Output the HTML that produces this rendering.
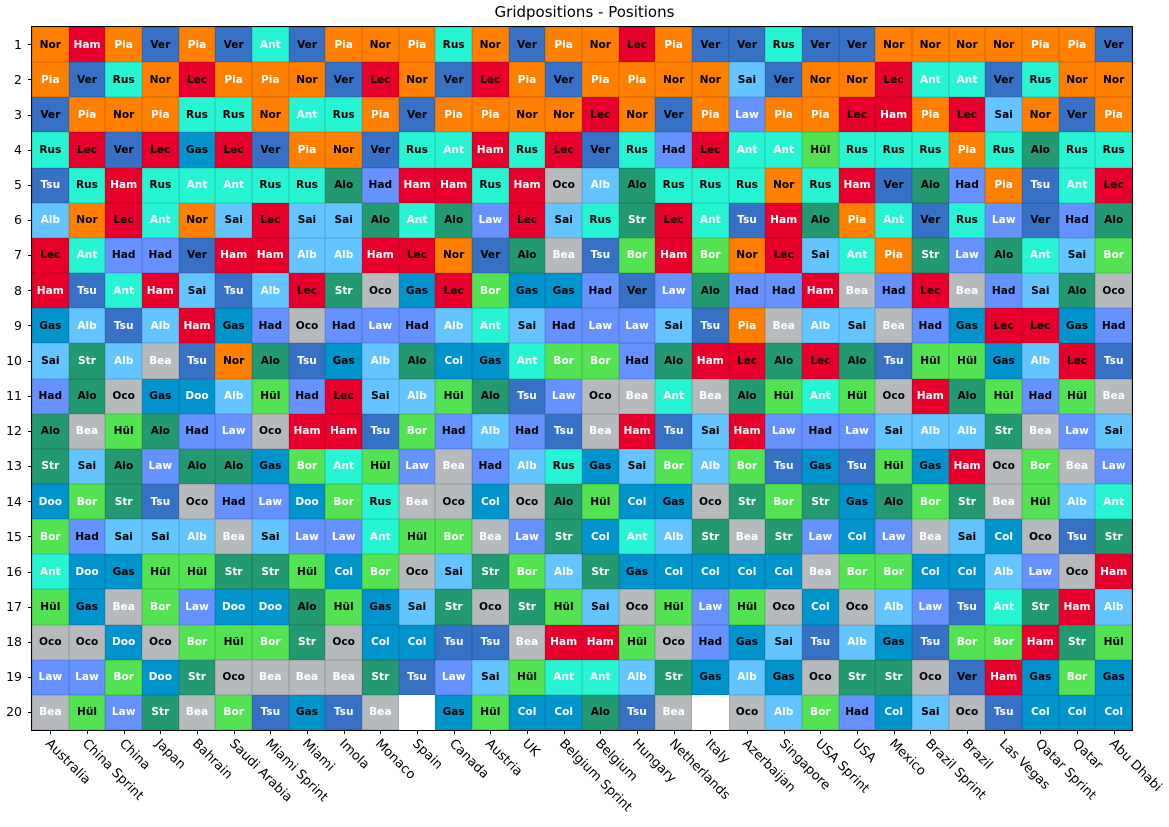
<!DOCTYPE html>
<html><head><meta charset="utf-8"><style>
body{margin:0;background:#fff;width:1169px;height:827px;position:relative;overflow:hidden;font-family:"DejaVu Sans","Liberation Sans",sans-serif}
#g{position:absolute;left:32px;top:27px;width:1100px;height:703px;display:grid;grid-template-columns:repeat(30,1fr);grid-template-rows:repeat(20,1fr);outline:1px solid #000}
#g div{display:flex;align-items:center;justify-content:center;font-weight:bold;font-size:10.6px;box-shadow:inset 0 0 0 0.5px rgba(0,0,0,0.18)}
.nor{background:#FF8000;color:#000}.pia{background:#FF8000;color:#fff}
.ham{background:#E8002D;color:#fff}.lec{background:#E8002D;color:#000}
.ver{background:#3671C6;color:#000}.tsu{background:#3671C6;color:#fff}
.rus{background:#27F4D2;color:#000}.ant{background:#27F4D2;color:#fff}
.alo{background:#229971;color:#000}.str{background:#229971;color:#fff}
.gas{background:#0093CC;color:#000}.doo,.col{background:#0093CC;color:#fff}
.sai{background:#64C4FF;color:#000}.alb{background:#64C4FF;color:#fff}
.hul{background:#52E252;color:#000}.bor{background:#52E252;color:#fff}
.oco{background:#B6BABD;color:#000}.bea{background:#B6BABD;color:#fff}
.had{background:#6692FF;color:#000}.law{background:#6692FF;color:#fff}
#g .e{background:#fff;box-shadow:none}
.t{position:absolute;left:0;top:0;width:1169px;text-align:center;font-size:15px;top:3px}
.yl{position:absolute;left:0;width:22px;text-align:right;font-size:12.5px;line-height:14px}
.yt{position:absolute;left:28px;width:4px;height:1px;background:#000}
.xt{position:absolute;top:730px;width:1px;height:4px;background:#000}
.xl{position:absolute;font-size:13px;line-height:14px;white-space:nowrap;transform-origin:0 50%;transform:rotate(45deg)}
</style></head><body>
<div class="t">Gridpositions - Positions</div>
<div id="g">
<div class="nor">Nor</div><div class="ham">Ham</div><div class="pia">Pia</div><div class="ver">Ver</div><div class="pia">Pia</div><div class="ver">Ver</div><div class="ant">Ant</div><div class="ver">Ver</div><div class="pia">Pia</div><div class="nor">Nor</div><div class="pia">Pia</div><div class="rus">Rus</div><div class="nor">Nor</div><div class="ver">Ver</div><div class="pia">Pia</div><div class="nor">Nor</div><div class="lec">Lec</div><div class="pia">Pia</div><div class="ver">Ver</div><div class="ver">Ver</div><div class="rus">Rus</div><div class="ver">Ver</div><div class="ver">Ver</div><div class="nor">Nor</div><div class="nor">Nor</div><div class="nor">Nor</div><div class="nor">Nor</div><div class="pia">Pia</div><div class="pia">Pia</div><div class="ver">Ver</div>
<div class="pia">Pia</div><div class="ver">Ver</div><div class="rus">Rus</div><div class="nor">Nor</div><div class="lec">Lec</div><div class="pia">Pia</div><div class="pia">Pia</div><div class="nor">Nor</div><div class="ver">Ver</div><div class="lec">Lec</div><div class="nor">Nor</div><div class="ver">Ver</div><div class="lec">Lec</div><div class="pia">Pia</div><div class="ver">Ver</div><div class="pia">Pia</div><div class="pia">Pia</div><div class="nor">Nor</div><div class="nor">Nor</div><div class="sai">Sai</div><div class="ver">Ver</div><div class="nor">Nor</div><div class="nor">Nor</div><div class="lec">Lec</div><div class="ant">Ant</div><div class="ant">Ant</div><div class="ver">Ver</div><div class="rus">Rus</div><div class="nor">Nor</div><div class="nor">Nor</div>
<div class="ver">Ver</div><div class="pia">Pia</div><div class="nor">Nor</div><div class="pia">Pia</div><div class="rus">Rus</div><div class="rus">Rus</div><div class="nor">Nor</div><div class="ant">Ant</div><div class="rus">Rus</div><div class="pia">Pia</div><div class="ver">Ver</div><div class="pia">Pia</div><div class="pia">Pia</div><div class="nor">Nor</div><div class="nor">Nor</div><div class="lec">Lec</div><div class="nor">Nor</div><div class="ver">Ver</div><div class="pia">Pia</div><div class="law">Law</div><div class="pia">Pia</div><div class="pia">Pia</div><div class="lec">Lec</div><div class="ham">Ham</div><div class="pia">Pia</div><div class="lec">Lec</div><div class="sai">Sai</div><div class="nor">Nor</div><div class="ver">Ver</div><div class="pia">Pia</div>
<div class="rus">Rus</div><div class="lec">Lec</div><div class="ver">Ver</div><div class="lec">Lec</div><div class="gas">Gas</div><div class="lec">Lec</div><div class="ver">Ver</div><div class="pia">Pia</div><div class="nor">Nor</div><div class="ver">Ver</div><div class="rus">Rus</div><div class="ant">Ant</div><div class="ham">Ham</div><div class="rus">Rus</div><div class="lec">Lec</div><div class="ver">Ver</div><div class="rus">Rus</div><div class="had">Had</div><div class="lec">Lec</div><div class="ant">Ant</div><div class="ant">Ant</div><div class="hul">Hül</div><div class="rus">Rus</div><div class="rus">Rus</div><div class="rus">Rus</div><div class="pia">Pia</div><div class="rus">Rus</div><div class="alo">Alo</div><div class="rus">Rus</div><div class="rus">Rus</div>
<div class="tsu">Tsu</div><div class="rus">Rus</div><div class="ham">Ham</div><div class="rus">Rus</div><div class="ant">Ant</div><div class="ant">Ant</div><div class="rus">Rus</div><div class="rus">Rus</div><div class="alo">Alo</div><div class="had">Had</div><div class="ham">Ham</div><div class="ham">Ham</div><div class="rus">Rus</div><div class="ham">Ham</div><div class="oco">Oco</div><div class="alb">Alb</div><div class="alo">Alo</div><div class="rus">Rus</div><div class="rus">Rus</div><div class="rus">Rus</div><div class="nor">Nor</div><div class="rus">Rus</div><div class="ham">Ham</div><div class="ver">Ver</div><div class="alo">Alo</div><div class="had">Had</div><div class="pia">Pia</div><div class="tsu">Tsu</div><div class="ant">Ant</div><div class="lec">Lec</div>
<div class="alb">Alb</div><div class="nor">Nor</div><div class="lec">Lec</div><div class="ant">Ant</div><div class="nor">Nor</div><div class="sai">Sai</div><div class="lec">Lec</div><div class="sai">Sai</div><div class="sai">Sai</div><div class="alo">Alo</div><div class="ant">Ant</div><div class="alo">Alo</div><div class="law">Law</div><div class="lec">Lec</div><div class="sai">Sai</div><div class="rus">Rus</div><div class="str">Str</div><div class="lec">Lec</div><div class="ant">Ant</div><div class="tsu">Tsu</div><div class="ham">Ham</div><div class="alo">Alo</div><div class="pia">Pia</div><div class="ant">Ant</div><div class="ver">Ver</div><div class="rus">Rus</div><div class="law">Law</div><div class="ver">Ver</div><div class="had">Had</div><div class="alo">Alo</div>
<div class="lec">Lec</div><div class="ant">Ant</div><div class="had">Had</div><div class="had">Had</div><div class="ver">Ver</div><div class="ham">Ham</div><div class="ham">Ham</div><div class="alb">Alb</div><div class="alb">Alb</div><div class="ham">Ham</div><div class="lec">Lec</div><div class="nor">Nor</div><div class="ver">Ver</div><div class="alo">Alo</div><div class="bea">Bea</div><div class="tsu">Tsu</div><div class="bor">Bor</div><div class="ham">Ham</div><div class="bor">Bor</div><div class="nor">Nor</div><div class="lec">Lec</div><div class="sai">Sai</div><div class="ant">Ant</div><div class="pia">Pia</div><div class="str">Str</div><div class="law">Law</div><div class="alo">Alo</div><div class="ant">Ant</div><div class="sai">Sai</div><div class="bor">Bor</div>
<div class="ham">Ham</div><div class="tsu">Tsu</div><div class="ant">Ant</div><div class="ham">Ham</div><div class="sai">Sai</div><div class="tsu">Tsu</div><div class="alb">Alb</div><div class="lec">Lec</div><div class="str">Str</div><div class="oco">Oco</div><div class="gas">Gas</div><div class="lec">Lec</div><div class="bor">Bor</div><div class="gas">Gas</div><div class="gas">Gas</div><div class="had">Had</div><div class="ver">Ver</div><div class="law">Law</div><div class="alo">Alo</div><div class="had">Had</div><div class="had">Had</div><div class="ham">Ham</div><div class="bea">Bea</div><div class="had">Had</div><div class="lec">Lec</div><div class="bea">Bea</div><div class="had">Had</div><div class="sai">Sai</div><div class="alo">Alo</div><div class="oco">Oco</div>
<div class="gas">Gas</div><div class="alb">Alb</div><div class="tsu">Tsu</div><div class="alb">Alb</div><div class="ham">Ham</div><div class="gas">Gas</div><div class="had">Had</div><div class="oco">Oco</div><div class="had">Had</div><div class="law">Law</div><div class="had">Had</div><div class="alb">Alb</div><div class="ant">Ant</div><div class="sai">Sai</div><div class="had">Had</div><div class="law">Law</div><div class="law">Law</div><div class="sai">Sai</div><div class="tsu">Tsu</div><div class="pia">Pia</div><div class="bea">Bea</div><div class="alb">Alb</div><div class="sai">Sai</div><div class="bea">Bea</div><div class="had">Had</div><div class="gas">Gas</div><div class="lec">Lec</div><div class="lec">Lec</div><div class="gas">Gas</div><div class="had">Had</div>
<div class="sai">Sai</div><div class="str">Str</div><div class="alb">Alb</div><div class="bea">Bea</div><div class="tsu">Tsu</div><div class="nor">Nor</div><div class="alo">Alo</div><div class="tsu">Tsu</div><div class="gas">Gas</div><div class="alb">Alb</div><div class="alo">Alo</div><div class="col">Col</div><div class="gas">Gas</div><div class="ant">Ant</div><div class="bor">Bor</div><div class="bor">Bor</div><div class="had">Had</div><div class="alo">Alo</div><div class="ham">Ham</div><div class="lec">Lec</div><div class="alo">Alo</div><div class="lec">Lec</div><div class="alo">Alo</div><div class="tsu">Tsu</div><div class="hul">Hül</div><div class="hul">Hül</div><div class="gas">Gas</div><div class="alb">Alb</div><div class="lec">Lec</div><div class="tsu">Tsu</div>
<div class="had">Had</div><div class="alo">Alo</div><div class="oco">Oco</div><div class="gas">Gas</div><div class="doo">Doo</div><div class="alb">Alb</div><div class="hul">Hül</div><div class="had">Had</div><div class="lec">Lec</div><div class="sai">Sai</div><div class="alb">Alb</div><div class="hul">Hül</div><div class="alo">Alo</div><div class="tsu">Tsu</div><div class="law">Law</div><div class="oco">Oco</div><div class="bea">Bea</div><div class="ant">Ant</div><div class="bea">Bea</div><div class="alo">Alo</div><div class="hul">Hül</div><div class="ant">Ant</div><div class="hul">Hül</div><div class="oco">Oco</div><div class="ham">Ham</div><div class="alo">Alo</div><div class="hul">Hül</div><div class="had">Had</div><div class="hul">Hül</div><div class="bea">Bea</div>
<div class="alo">Alo</div><div class="bea">Bea</div><div class="hul">Hül</div><div class="alo">Alo</div><div class="had">Had</div><div class="law">Law</div><div class="oco">Oco</div><div class="ham">Ham</div><div class="ham">Ham</div><div class="tsu">Tsu</div><div class="bor">Bor</div><div class="had">Had</div><div class="alb">Alb</div><div class="had">Had</div><div class="tsu">Tsu</div><div class="bea">Bea</div><div class="ham">Ham</div><div class="tsu">Tsu</div><div class="sai">Sai</div><div class="ham">Ham</div><div class="law">Law</div><div class="had">Had</div><div class="law">Law</div><div class="sai">Sai</div><div class="alb">Alb</div><div class="alb">Alb</div><div class="str">Str</div><div class="bea">Bea</div><div class="law">Law</div><div class="sai">Sai</div>
<div class="str">Str</div><div class="sai">Sai</div><div class="alo">Alo</div><div class="law">Law</div><div class="alo">Alo</div><div class="alo">Alo</div><div class="gas">Gas</div><div class="bor">Bor</div><div class="ant">Ant</div><div class="hul">Hül</div><div class="law">Law</div><div class="bea">Bea</div><div class="had">Had</div><div class="alb">Alb</div><div class="rus">Rus</div><div class="gas">Gas</div><div class="sai">Sai</div><div class="bor">Bor</div><div class="alb">Alb</div><div class="bor">Bor</div><div class="tsu">Tsu</div><div class="gas">Gas</div><div class="tsu">Tsu</div><div class="hul">Hül</div><div class="gas">Gas</div><div class="ham">Ham</div><div class="oco">Oco</div><div class="bor">Bor</div><div class="bea">Bea</div><div class="law">Law</div>
<div class="doo">Doo</div><div class="bor">Bor</div><div class="str">Str</div><div class="tsu">Tsu</div><div class="oco">Oco</div><div class="had">Had</div><div class="law">Law</div><div class="doo">Doo</div><div class="bor">Bor</div><div class="rus">Rus</div><div class="bea">Bea</div><div class="oco">Oco</div><div class="col">Col</div><div class="oco">Oco</div><div class="alo">Alo</div><div class="hul">Hül</div><div class="col">Col</div><div class="gas">Gas</div><div class="oco">Oco</div><div class="str">Str</div><div class="bor">Bor</div><div class="str">Str</div><div class="gas">Gas</div><div class="alo">Alo</div><div class="bor">Bor</div><div class="str">Str</div><div class="bea">Bea</div><div class="hul">Hül</div><div class="alb">Alb</div><div class="ant">Ant</div>
<div class="bor">Bor</div><div class="had">Had</div><div class="sai">Sai</div><div class="sai">Sai</div><div class="alb">Alb</div><div class="bea">Bea</div><div class="sai">Sai</div><div class="law">Law</div><div class="law">Law</div><div class="ant">Ant</div><div class="hul">Hül</div><div class="bor">Bor</div><div class="bea">Bea</div><div class="law">Law</div><div class="str">Str</div><div class="col">Col</div><div class="ant">Ant</div><div class="alb">Alb</div><div class="str">Str</div><div class="bea">Bea</div><div class="str">Str</div><div class="law">Law</div><div class="col">Col</div><div class="law">Law</div><div class="bea">Bea</div><div class="sai">Sai</div><div class="col">Col</div><div class="oco">Oco</div><div class="tsu">Tsu</div><div class="str">Str</div>
<div class="ant">Ant</div><div class="doo">Doo</div><div class="gas">Gas</div><div class="hul">Hül</div><div class="hul">Hül</div><div class="str">Str</div><div class="str">Str</div><div class="hul">Hül</div><div class="col">Col</div><div class="bor">Bor</div><div class="oco">Oco</div><div class="sai">Sai</div><div class="str">Str</div><div class="bor">Bor</div><div class="alb">Alb</div><div class="str">Str</div><div class="gas">Gas</div><div class="col">Col</div><div class="col">Col</div><div class="col">Col</div><div class="col">Col</div><div class="bea">Bea</div><div class="bor">Bor</div><div class="bor">Bor</div><div class="col">Col</div><div class="col">Col</div><div class="alb">Alb</div><div class="law">Law</div><div class="oco">Oco</div><div class="ham">Ham</div>
<div class="hul">Hül</div><div class="gas">Gas</div><div class="bea">Bea</div><div class="bor">Bor</div><div class="law">Law</div><div class="doo">Doo</div><div class="doo">Doo</div><div class="alo">Alo</div><div class="hul">Hül</div><div class="gas">Gas</div><div class="sai">Sai</div><div class="str">Str</div><div class="oco">Oco</div><div class="str">Str</div><div class="hul">Hül</div><div class="sai">Sai</div><div class="oco">Oco</div><div class="hul">Hül</div><div class="law">Law</div><div class="hul">Hül</div><div class="oco">Oco</div><div class="col">Col</div><div class="oco">Oco</div><div class="alb">Alb</div><div class="law">Law</div><div class="tsu">Tsu</div><div class="ant">Ant</div><div class="str">Str</div><div class="ham">Ham</div><div class="alb">Alb</div>
<div class="oco">Oco</div><div class="oco">Oco</div><div class="doo">Doo</div><div class="oco">Oco</div><div class="bor">Bor</div><div class="hul">Hül</div><div class="bor">Bor</div><div class="str">Str</div><div class="oco">Oco</div><div class="col">Col</div><div class="col">Col</div><div class="tsu">Tsu</div><div class="tsu">Tsu</div><div class="bea">Bea</div><div class="ham">Ham</div><div class="ham">Ham</div><div class="hul">Hül</div><div class="oco">Oco</div><div class="had">Had</div><div class="gas">Gas</div><div class="sai">Sai</div><div class="tsu">Tsu</div><div class="alb">Alb</div><div class="gas">Gas</div><div class="tsu">Tsu</div><div class="bor">Bor</div><div class="bor">Bor</div><div class="ham">Ham</div><div class="str">Str</div><div class="hul">Hül</div>
<div class="law">Law</div><div class="law">Law</div><div class="bor">Bor</div><div class="doo">Doo</div><div class="str">Str</div><div class="oco">Oco</div><div class="bea">Bea</div><div class="bea">Bea</div><div class="bea">Bea</div><div class="str">Str</div><div class="tsu">Tsu</div><div class="law">Law</div><div class="sai">Sai</div><div class="hul">Hül</div><div class="ant">Ant</div><div class="ant">Ant</div><div class="alb">Alb</div><div class="str">Str</div><div class="gas">Gas</div><div class="alb">Alb</div><div class="gas">Gas</div><div class="oco">Oco</div><div class="str">Str</div><div class="str">Str</div><div class="oco">Oco</div><div class="ver">Ver</div><div class="ham">Ham</div><div class="gas">Gas</div><div class="bor">Bor</div><div class="gas">Gas</div>
<div class="bea">Bea</div><div class="hul">Hül</div><div class="law">Law</div><div class="str">Str</div><div class="bea">Bea</div><div class="bor">Bor</div><div class="tsu">Tsu</div><div class="gas">Gas</div><div class="tsu">Tsu</div><div class="bea">Bea</div><div class="e"></div><div class="gas">Gas</div><div class="hul">Hül</div><div class="col">Col</div><div class="col">Col</div><div class="alo">Alo</div><div class="tsu">Tsu</div><div class="bea">Bea</div><div class="e"></div><div class="oco">Oco</div><div class="alb">Alb</div><div class="bor">Bor</div><div class="had">Had</div><div class="col">Col</div><div class="sai">Sai</div><div class="oco">Oco</div><div class="tsu">Tsu</div><div class="col">Col</div><div class="col">Col</div><div class="col">Col</div>
</div>
<div class="yl" style="top:38px">1</div><div class="yl" style="top:73px">2</div><div class="yl" style="top:108px">3</div><div class="yl" style="top:143px">4</div><div class="yl" style="top:178px">5</div><div class="yl" style="top:213px">6</div><div class="yl" style="top:248px">7</div><div class="yl" style="top:284px">8</div><div class="yl" style="top:319px">9</div><div class="yl" style="top:354px">10</div><div class="yl" style="top:389px">11</div><div class="yl" style="top:424px">12</div><div class="yl" style="top:459px">13</div><div class="yl" style="top:495px">14</div><div class="yl" style="top:530px">15</div><div class="yl" style="top:565px">16</div><div class="yl" style="top:600px">17</div><div class="yl" style="top:635px">18</div><div class="yl" style="top:670px">19</div><div class="yl" style="top:705px">20</div>
<div class="yt" style="top:44px"></div><div class="yt" style="top:79px"></div><div class="yt" style="top:115px"></div><div class="yt" style="top:150px"></div><div class="yt" style="top:185px"></div><div class="yt" style="top:220px"></div><div class="yt" style="top:255px"></div><div class="yt" style="top:290px"></div><div class="yt" style="top:325px"></div><div class="yt" style="top:361px"></div><div class="yt" style="top:396px"></div><div class="yt" style="top:431px"></div><div class="yt" style="top:466px"></div><div class="yt" style="top:501px"></div><div class="yt" style="top:536px"></div><div class="yt" style="top:572px"></div><div class="yt" style="top:607px"></div><div class="yt" style="top:642px"></div><div class="yt" style="top:677px"></div><div class="yt" style="top:712px"></div>
<div class="xt" style="left:50px"></div><div class="xt" style="left:87px"></div><div class="xt" style="left:124px"></div><div class="xt" style="left:160px"></div><div class="xt" style="left:197px"></div><div class="xt" style="left:234px"></div><div class="xt" style="left:270px"></div><div class="xt" style="left:307px"></div><div class="xt" style="left:344px"></div><div class="xt" style="left:380px"></div><div class="xt" style="left:417px"></div><div class="xt" style="left:454px"></div><div class="xt" style="left:490px"></div><div class="xt" style="left:527px"></div><div class="xt" style="left:564px"></div><div class="xt" style="left:600px"></div><div class="xt" style="left:637px"></div><div class="xt" style="left:674px"></div><div class="xt" style="left:710px"></div><div class="xt" style="left:747px"></div><div class="xt" style="left:784px"></div><div class="xt" style="left:820px"></div><div class="xt" style="left:857px"></div><div class="xt" style="left:894px"></div><div class="xt" style="left:930px"></div><div class="xt" style="left:967px"></div><div class="xt" style="left:1004px"></div><div class="xt" style="left:1040px"></div><div class="xt" style="left:1077px"></div><div class="xt" style="left:1114px"></div>
<div class="xl" style="left:47px;top:735px">Australia</div><div class="xl" style="left:84px;top:735px">China Sprint</div><div class="xl" style="left:121px;top:735px">China</div><div class="xl" style="left:157px;top:735px">Japan</div><div class="xl" style="left:194px;top:735px">Bahrain</div><div class="xl" style="left:231px;top:735px">Saudi Arabia</div><div class="xl" style="left:267px;top:735px">Miami Sprint</div><div class="xl" style="left:304px;top:735px">Miami</div><div class="xl" style="left:341px;top:735px">Imola</div><div class="xl" style="left:377px;top:735px">Monaco</div><div class="xl" style="left:414px;top:735px">Spain</div><div class="xl" style="left:451px;top:735px">Canada</div><div class="xl" style="left:487px;top:735px">Austria</div><div class="xl" style="left:524px;top:735px">UK</div><div class="xl" style="left:561px;top:735px">Belgium Sprint</div><div class="xl" style="left:597px;top:735px">Belgium</div><div class="xl" style="left:634px;top:735px">Hungary</div><div class="xl" style="left:671px;top:735px">Netherlands</div><div class="xl" style="left:707px;top:735px">Italy</div><div class="xl" style="left:744px;top:735px">Azerbaijan</div><div class="xl" style="left:781px;top:735px">Singapore</div><div class="xl" style="left:817px;top:735px">USA Sprint</div><div class="xl" style="left:854px;top:735px">USA</div><div class="xl" style="left:891px;top:735px">Mexico</div><div class="xl" style="left:927px;top:735px">Brazil Sprint</div><div class="xl" style="left:964px;top:735px">Brazil</div><div class="xl" style="left:1001px;top:735px">Las Vegas</div><div class="xl" style="left:1037px;top:735px">Qatar Sprint</div><div class="xl" style="left:1074px;top:735px">Qatar</div><div class="xl" style="left:1111px;top:735px">Abu Dhabi</div>
</body></html>
